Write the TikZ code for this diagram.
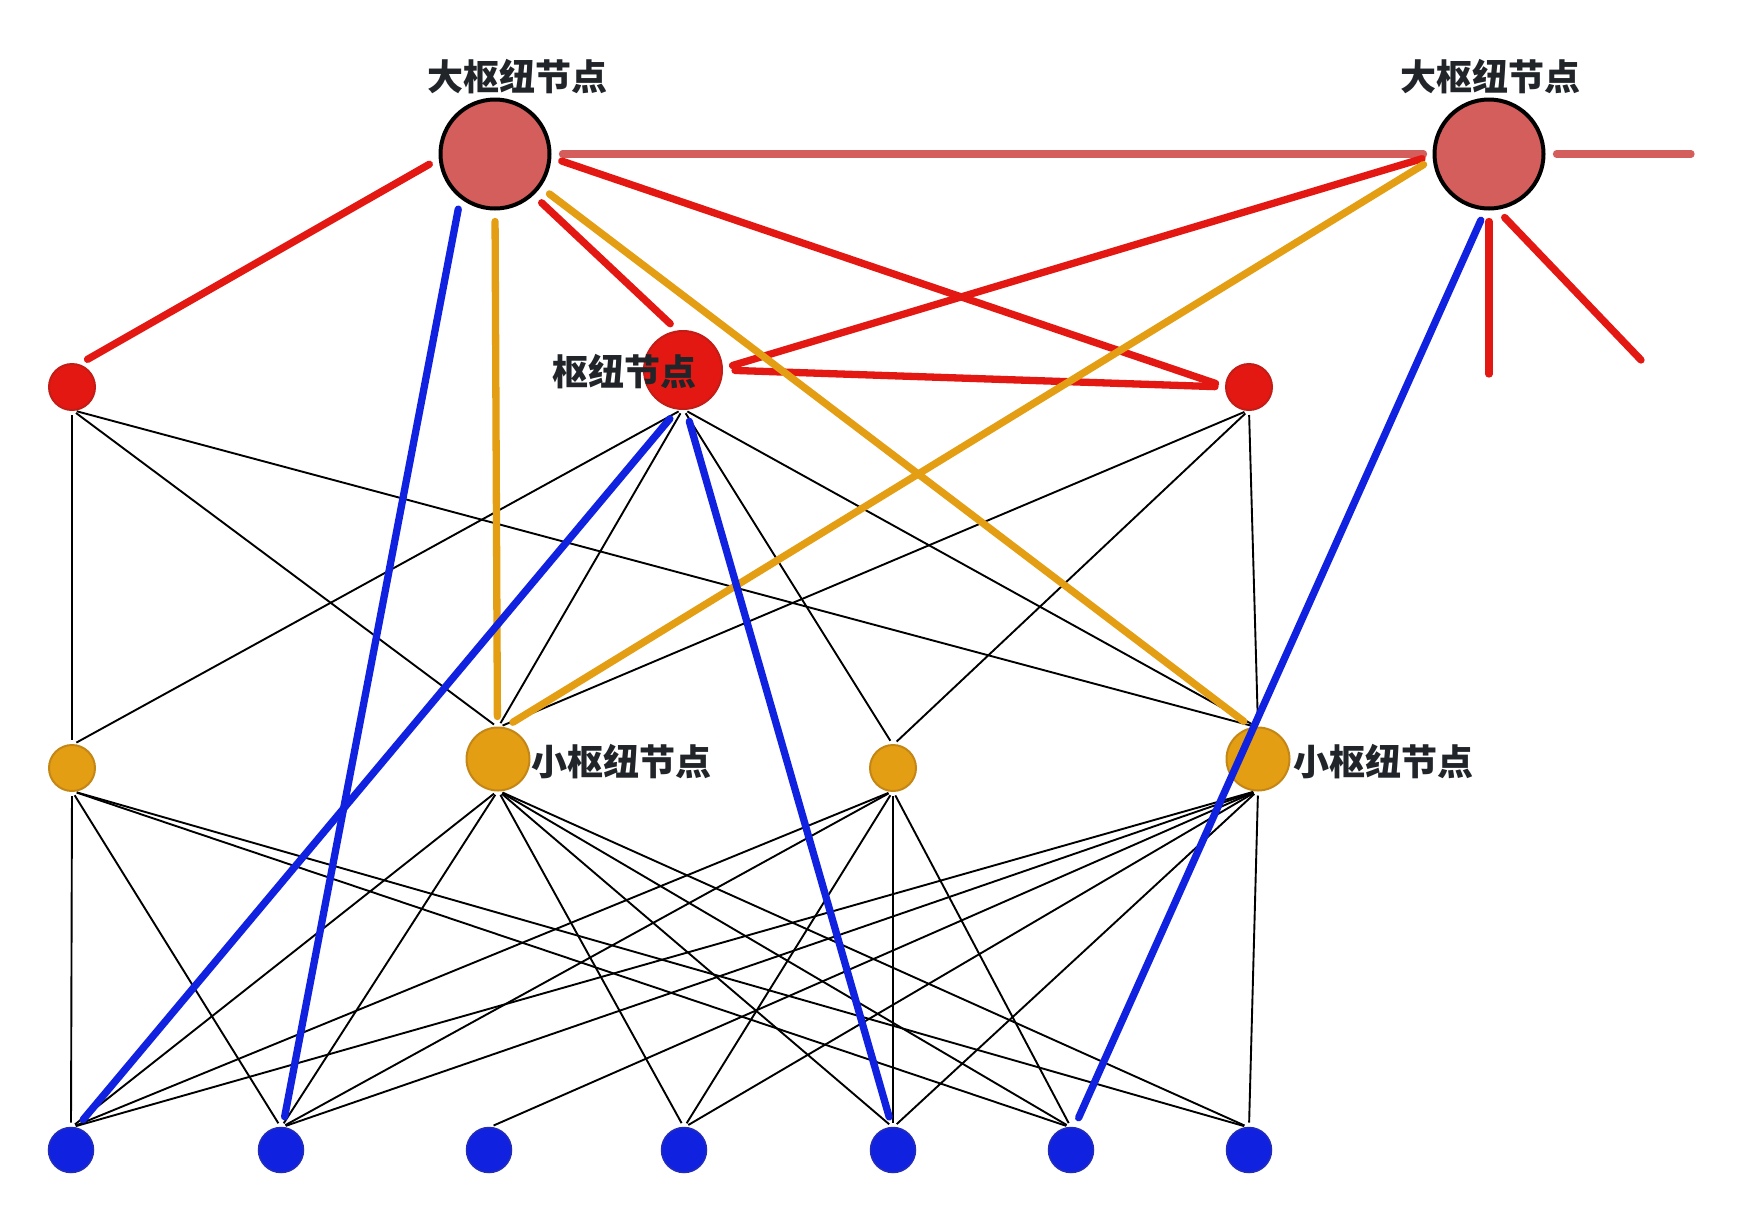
\documentclass[tikz,border=0pt]{standalone}
\usepackage{fontspec}
\newfontfamily\cjk{Noto Sans CJK SC}
\usetikzlibrary{positioning}
\definecolor{hubsalmon}{RGB}{212,94,92}
\definecolor{hubred}{RGB}{227,24,18}
\definecolor{hubreddark}{RGB}{196,28,22}
\definecolor{huborange}{RGB}{227,158,19}
\definecolor{huborangedark}{RGB}{196,135,22}
\definecolor{leafblue}{RGB}{16,34,224}
\definecolor{leafbluedark}{RGB}{35,45,185}
\definecolor{labelgray}{RGB}{33,37,41}

\begin{document}
\begin{tikzpicture}[x=1pt,y=-1pt,
    bighub/.style={circle,draw=black,line width=4pt,fill=hubsalmon,minimum size=109pt,inner sep=0pt,outer sep=0pt},
    hub/.style={circle,draw=hubreddark,line width=2pt,fill=hubred,minimum size=78pt,inner sep=0pt,outer sep=0pt},
    redsite/.style={circle,draw=hubreddark,line width=2pt,fill=hubred,minimum size=46pt,inner sep=0pt,outer sep=0pt},
    smallhub/.style={circle,draw=huborangedark,line width=2pt,fill=huborange,minimum size=#1,inner sep=0pt,outer sep=0pt},
    bluesite/.style={circle,draw=leafbluedark,line width=1.5pt,fill=leafblue,minimum size=45pt,inner sep=0pt,outer sep=0pt},
    link/.style={line width=7.3pt,line cap=round,shorten <=13pt,shorten >=11pt},
    wire/.style={black,line width=1.9pt,shorten <=5pt,shorten >=5pt},
    tag/.style={font={\cjk\bfseries\fontsize{36pt}{40pt}\selectfont},text=labelgray,inner sep=0pt}
]
\useasboundingbox (0,0) rectangle (1748,1224);

% nodes
\node[bighub] (h1) at (495,154) {};
\node[bighub] (h2) at (1489,154) {};
\node[hub] (m) at (683,370) {};
\node[redsite] (r1) at (72,387) {};
\node[redsite] (r2) at (1249,387) {};
\node[smallhub=46pt] (o1) at (72,768) {};
\node[smallhub=63pt] (o2) at (498,759) {};
\node[smallhub=46pt] (o3) at (893,768) {};
\node[smallhub=63pt] (o4) at (1258,759) {};
\foreach \i/\x in {1/71,2/281,3/489,4/684,5/893,6/1071,7/1249}
    \node[bluesite] (b\i) at (\x,1150) {};
\coordinate (h2down) at (1489,374);
\coordinate (h2diag) at (1641,360);
\coordinate (h2right) at (1691,154);

% thin edges
\foreach \dst in {o1,o2,o4} \draw[wire] (r1.south) -- (\dst.north);
\foreach \dst in {o1,o2,o3,o4} \draw[wire] (m.south) -- (\dst.north);
\foreach \dst in {o2,o3,o4} \draw[wire] (r2.south) -- (\dst.north);
\foreach \dst in {b1,b2,b6,b7} \draw[wire] (o1.south) -- (\dst.north);
\foreach \dst in {b1,b2,b4,b5,b6,b7} \draw[wire] (o2.south) -- (\dst.north);
\foreach \dst in {b1,b2,b4,b5,b6} \draw[wire] (o3.south) -- (\dst.north);
\foreach \dst in {b1,b2,b3,b4,b5,b7} \draw[wire] (o4.south) -- (\dst.north);

% heavy edges
\draw[link,hubsalmon] (h1.0) -- (h2.180);
\draw[link,hubsalmon,shorten >=0pt] (h2.0) -- (h2right);
\draw[link,hubred] (h1.184) -- (r1.75);
\draw[link,hubred] (h1.313) -- (m.97);
\draw[link,hubred] (h1.357) -- (r2.180);
\draw[link,hubred] (m.0) -- (r2.180);
\draw[link,hubred] (h2.181) -- (m.2);
\draw[link,hubred,shorten >=0pt] (h2.270) -- (h2down);
\draw[link,hubred,shorten >=0pt] (h2.277) -- (h2diag);
\draw[link,huborange] (h1.270) -- (o2.91);
\draw[link,huborange] (h1.324) -- (o4.100);
\draw[link,huborange] (h2.184) -- (o2.80);
\draw[link,leafblue] (h1.231) -- (b2.86);
\draw[link,leafblue] (m.263) -- (b1.77);
\draw[link,leafblue] (m.274) -- (b5.92);
\draw[link,leafblue] (h2.267) -- (b6.82);

% labels
\node[tag] (h1tag) at (517,77) {大枢纽节点};
\node[tag] (h2tag) at (1490,77) {大枢纽节点};
\node[tag] (mtag) at (624,372) {枢纽节点};
\node[tag,right=2pt of o2,yshift=-3pt] (o2tag) {小枢纽节点};
\node[tag,right=4pt of o4,yshift=-3pt] (o4tag) {小枢纽节点};
\end{tikzpicture}
\end{document}
